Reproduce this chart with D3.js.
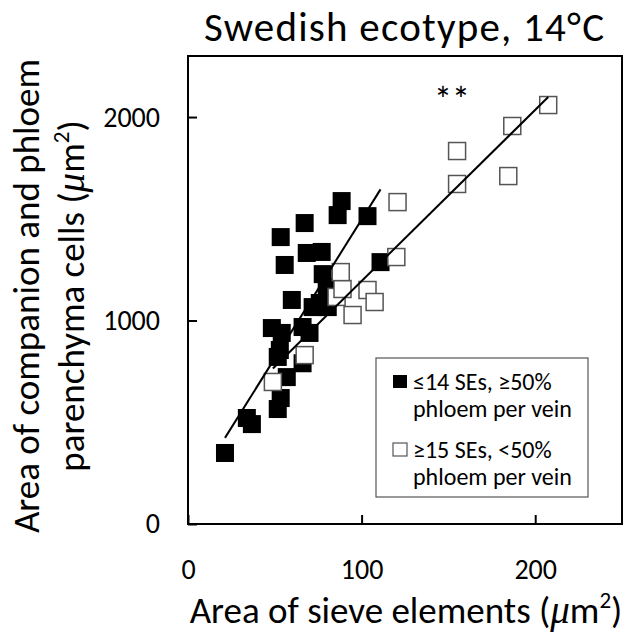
<!DOCTYPE html>
<html>
<head>
<meta charset="utf-8">
<script src="https://cdn.jsdelivr.net/npm/d3@7"></script>
<style>
  body { margin: 0; background: #fff; }
  svg text { font-family: Carlito, Lato, sans-serif; fill: #000; }
</style>
</head>
<body>
<div id="chart"></div>
<script>
// values
var filledX = [21.3, 33.9, 36.8, 51.7, 53.4, 56.9, 51.7, 52.9, 48.3, 54.0, 66.0, 70.0, 59.8, 71.8,
               75.9, 80.5, 79.9, 77.6, 55.7, 68.4, 77.0, 53.4, 67.2, 86.2, 88.5, 103.4, 110.9, 66.0];
var filledY = [349, 521, 491, 565, 619, 722, 821, 855, 963, 939, 968, 939, 1101, 1066,
               1086, 1066, 1165, 1228, 1273, 1332, 1337, 1410, 1479, 1518, 1587, 1513, 1287, 790];
var hollowX = [48.9, 67.2, 85.6, 89.0, 88.0, 94.8, 103.4, 107.5, 120.0, 120.7, 155.0, 155.0, 184.5, 186.8, 207.5];
var hollowY = [698, 830, 1116, 1155, 1238, 1027, 1150, 1091, 1312, 1582, 1671, 1833, 1710, 1956, 2059];

// linear trendlines [slope, intercept]
var filledFit = [13.63, 133];
var hollowFit = [8.41, 353];

var xTicks = [0, 100, 200];
var yTicks = [0, 1000, 2000];
var legendLabels = [["≤14 SEs, ≥50%", "phloem per vein"], ["≥15 SEs, <50%", "phloem per vein"]];

var W = 630, H = 642;
var margin = {left: 188, top: 56};
var width = 434, height = 468;

var svg = d3.select("#chart").append("svg")
    .attr("width", W)
    .attr("height", H);

var x = d3.scaleLinear().domain([0, 250]).range([0, width]);
var y = d3.scaleLinear().domain([0, 2300]).range([height, 0]);

var g = svg.append("g")
    .attr("transform", "translate(" + margin.left + "," + margin.top + ")");

// axes, ticks point inward
g.append("g")
    .attr("transform", "translate(0," + height + ")")
    .call(d3.axisBottom(x).tickValues(xTicks).tickFormat(d3.format("d")).tickSize(-9).tickPadding(35))
    .call(function(a) {
        a.select(".domain").remove();
        a.selectAll("line").attr("stroke", "#000").attr("stroke-width", 2);
        a.selectAll("text").attr("font-size", 28);
    });

g.append("g")
    .call(d3.axisLeft(y).tickValues(yTicks).tickFormat(d3.format("d")).tickSize(-9).tickPadding(28))
    .call(function(a) {
        a.select(".domain").remove();
        a.selectAll("line").attr("stroke", "#000").attr("stroke-width", 2);
        a.selectAll("text").attr("font-size", 28);
    });

// plot frame
g.append("rect")
    .attr("width", width)
    .attr("height", height)
    .attr("fill", "none")
    .attr("stroke", "#000")
    .attr("stroke-width", 2);

var filled = filledX.map(function(d, i) { return {x: d, y: filledY[i]}; });
var hollow = hollowX.map(function(d, i) { return {x: d, y: hollowY[i]}; });

var s = 18;
g.selectAll(".filled")
    .data(filled)
    .enter().append("rect")
    .attr("class", "filled")
    .attr("x", function(d) { return x(d.x) - s / 2; })
    .attr("y", function(d) { return y(d.y) - s / 2; })
    .attr("width", s)
    .attr("height", s)
    .attr("fill", "#000");

var hs = 17;
g.selectAll(".hollow")
    .data(hollow)
    .enter().append("rect")
    .attr("class", "hollow")
    .attr("x", function(d) { return x(d.x) - hs / 2; })
    .attr("y", function(d) { return y(d.y) - hs / 2; })
    .attr("width", hs)
    .attr("height", hs)
    .attr("fill", "#fff")
    .attr("stroke", "#555")
    .attr("stroke-width", 1.5);

// trendlines over the data range of each series
function trend(xs, fit) {
    var ext = d3.extent(xs);
    return ext.map(function(v) { return [x(v), y(fit[0] * v + fit[1])]; });
}
var line = d3.line();
[[filledX, filledFit], [hollowX, hollowFit]].forEach(function(p) {
    g.append("path")
        .attr("d", line(trend(p[0], p[1])))
        .attr("stroke", "#000")
        .attr("stroke-width", 2)
        .attr("fill", "none");
});

// significance mark
svg.append("text")
    .attr("x", 452)
    .attr("y", 112)
    .attr("text-anchor", "middle")
    .attr("font-size", 36)
    .text("**");

// legend
var lg = svg.append("g").attr("transform", "translate(376,358)");
lg.append("rect")
    .attr("width", 212)
    .attr("height", 139)
    .attr("fill", "#fff")
    .attr("stroke", "#555")
    .attr("stroke-width", 1.2);

legendLabels.forEach(function(lab, i) {
    var oy = i * 68;
    lg.append("rect")
        .attr("x", 17)
        .attr("y", 17 + oy)
        .attr("width", 14)
        .attr("height", 13)
        .attr("fill", i === 0 ? "#000" : "#fff")
        .attr("stroke", i === 0 ? "none" : "#555")
        .attr("stroke-width", 1.2);
    lg.append("text")
        .attr("x", 37)
        .attr("y", 32 + oy)
        .attr("font-size", 24)
        .text(lab[0]);
    lg.append("text")
        .attr("x", 37)
        .attr("y", 59 + oy)
        .attr("font-size", 24)
        .text(lab[1]);
});

// title
svg.append("text")
    .attr("x", 404)
    .attr("y", 41)
    .attr("text-anchor", "middle")
    .attr("font-size", 41)
    .attr("textLength", 400)
    .attr("lengthAdjust", "spacing")
    .text("Swedish ecotype, 14°C");

// x axis title
var xt = svg.append("text")
    .attr("x", 406)
    .attr("y", 623)
    .attr("text-anchor", "middle")
    .attr("font-size", 37);
xt.append("tspan").text("Area of sieve elements (");
xt.append("tspan").attr("font-style", "italic").attr("font-family", "Liberation Serif, serif").attr("font-size", 39).text("μ");
xt.append("tspan").text("m");
xt.append("tspan").attr("font-size", 23).attr("dy", -15).text("2");
xt.append("tspan").attr("dy", 15).text(")");

// y axis title, two lines
var yt = svg.append("g").attr("transform", "translate(0,296) rotate(-90)");
yt.append("text")
    .attr("x", 0)
    .attr("y", 39)
    .attr("text-anchor", "middle")
    .attr("font-size", 37)
    .text("Area of companion and phloem");
var yt2 = yt.append("text")
    .attr("x", 0)
    .attr("y", 84)
    .attr("text-anchor", "middle")
    .attr("font-size", 37);
yt2.append("tspan").text("parenchyma cells (");
yt2.append("tspan").attr("font-style", "italic").attr("font-family", "Liberation Serif, serif").attr("font-size", 39).text("μ");
yt2.append("tspan").text("m");
yt2.append("tspan").attr("font-size", 23).attr("dy", -15).text("2");
yt2.append("tspan").attr("dy", 15).text(")");
</script>
</body>
</html>
